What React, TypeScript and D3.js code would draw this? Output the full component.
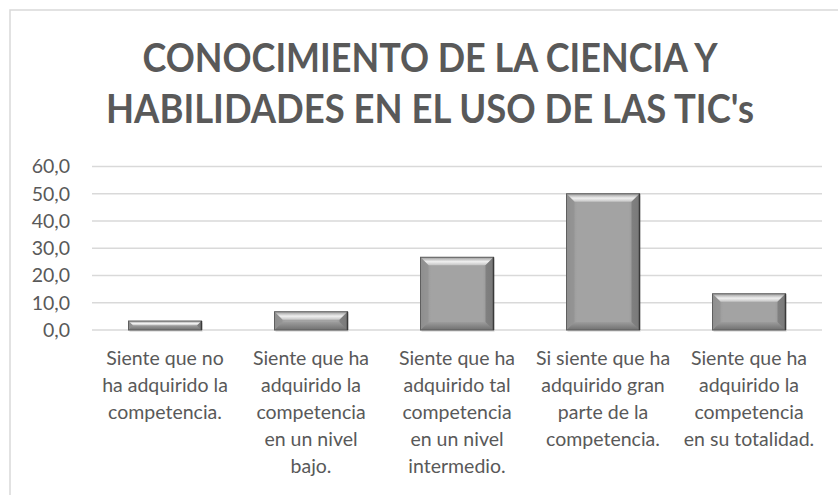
import React from "react";
import * as d3 from "d3";

const categories: string[][] = [
  ["Siente que no", "ha adquirido la", "competencia."],
  ["Siente que ha", "adquirido la", "competencia", "en un nivel", "bajo."],
  ["Siente que ha", "adquirido tal", "competencia", "en un nivel", "intermedio."],
  ["Si siente que ha", "adquirido gran", "parte de la", "competencia."],
  ["Siente que ha", "adquirido la", "competencia", "en su totalidad."],
];
const values: number[] = [3.3, 6.7, 26.7, 50.0, 13.3];
const tickValues: number[] = [0, 10, 20, 30, 40, 50, 60];
const titleLines: string[] = ["CONOCIMIENTO DE LA CIENCIA Y", "HABILIDADES EN EL USO DE LAS TIC's"];

const W = 838;
const H = 495;
const FONT = "Lato, 'Open Sans', sans-serif";

export default function App() {
  const x = d3
    .scaleBand<number>()
    .domain(d3.range(values.length))
    .range([92, 822])
    .paddingInner(0.5)
    .paddingOuter(0.25);
  const y = d3.scaleLinear().domain([0, 60]).range([330, 166.5]);
  const fmt = (v: number) => d3.format(".1f")(v).replace(".", ",");
  const bevel = 8;

  return (
    <svg
      width={W}
      height={H}
      style={{ position: "absolute", left: 0, top: 0, background: "#fff" }}
    >
      <defs>
        <linearGradient id="body" x1="0" y1="0" x2="1" y2="0">
          <stop offset="0" stopColor="#929292" />
          <stop offset="0.15" stopColor="#a3a3a3" />
          <stop offset="0.85" stopColor="#a3a3a3" />
          <stop offset="1" stopColor="#8c8c8c" />
        </linearGradient>
        <linearGradient id="topBevel" x1="0" y1="0" x2="0" y2="1">
          <stop offset="0" stopColor="#9a9a9a" />
          <stop offset="0.55" stopColor="#f0f0f0" />
          <stop offset="1" stopColor="#c4c4c4" />
        </linearGradient>
        <linearGradient id="botBevel" x1="0" y1="0" x2="0" y2="1">
          <stop offset="0" stopColor="#9c9c9c" />
          <stop offset="1" stopColor="#707070" />
        </linearGradient>
      </defs>
      <rect x={10} y={10} width={W + 20} height={H + 20} fill="#fff" stroke="#d9d9d9" strokeWidth={1.5} />
      {titleLines.map((t, i) => (
        <text
          key={t}
          x={430}
          y={[72, 123][i]}
          textAnchor="middle"
          fontFamily={FONT}
          fontWeight="bold"
          fontSize={40}
          fill="#595959"
          textLength={[575, 648][i]}
          lengthAdjust="spacingAndGlyphs"
        >
          {t}
        </text>
      ))}
      {tickValues.map((v) => (
        <g key={v}>
          <line x1={92} x2={822} y1={y(v)} y2={y(v)} stroke="#d9d9d9" strokeWidth={1.5} />
          <text
            x={70}
            y={y(v)}
            dy="0.35em"
            textAnchor="end"
            fontFamily={FONT}
            fontSize={19.5}
            fill="#595959"
          >
            {fmt(v)}
          </text>
        </g>
      ))}
      {values.map((v, i) => {
        const bx = x(i)!;
        const bw = x.bandwidth();
        const top = y(v);
        const bh = y(0) - top;
        const b = Math.min(bevel, bh / 2);
        const r = bx + bw;
        const btm = top + bh;
        return (
          <g key={i}>
            <rect x={bx + 1} y={top + 2} width={bw} height={bh} fill="#000" opacity={0.1} />
            <rect x={bx} y={top} width={bw} height={bh} fill="url(#body)" />
            <polygon
              points={`${bx},${top} ${r},${top} ${r - b},${top + b} ${bx + b},${top + b}`}
              fill="url(#topBevel)"
            />
            <polygon
              points={`${bx},${btm} ${r},${btm} ${r - b},${btm - b} ${bx + b},${btm - b}`}
              fill="url(#botBevel)"
            />
            <polygon
              points={`${bx},${top} ${bx + b},${top + b} ${bx + b},${btm - b} ${bx},${btm}`}
              fill="#8c8c8c"
              opacity={0.5}
            />
            <polygon
              points={`${r},${top} ${r - b},${top + b} ${r - b},${btm - b} ${r},${btm}`}
              fill="#6a6a6a"
              opacity={0.55}
            />
            <rect x={bx} y={top} width={bw} height={bh} fill="none" stroke="#5f5f5f" strokeWidth={1} />
            <line x1={r} x2={r} y1={top} y2={btm} stroke="#3a3a3a" strokeWidth={1.5} />
          </g>
        );
      })}
      {categories.map((lines, i) => (
        <text
          key={i}
          textAnchor="middle"
          fontFamily={FONT}
          fontSize={19.5}
          fill="#595959"
        >
          {lines.map((l, j) => (
            <tspan key={j} x={x(i)! + x.bandwidth() / 2} y={365 + j * 27}>
              {l}
            </tspan>
          ))}
        </text>
      ))}
    </svg>
  );
}
